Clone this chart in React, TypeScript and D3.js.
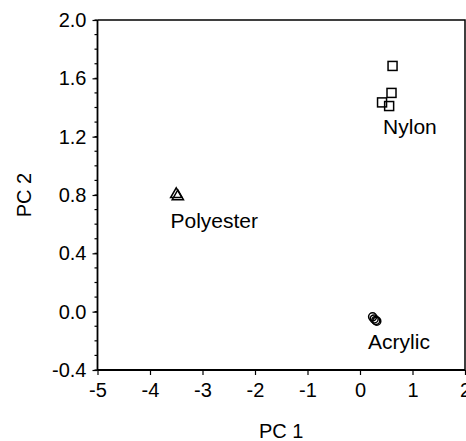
import React, { useEffect, useRef } from 'react';
import * as d3 from 'd3';

// PCA scores
const nylonX = [0.62, 0.6, 0.42, 0.555];
const nylonY = [1.685, 1.5, 1.435, 1.41];
const polyesterX = [-3.5, -3.47];
const polyesterY = [0.805, 0.79];
const acrylicX = [0.24, 0.27, 0.3, 0.32];
const acrylicY = [-0.035, -0.05, -0.06, -0.065];

const groupNames = ['Nylon', 'Polyester', 'Acrylic'];
const labelX = [0.44, -3.61, 0.154];
const labelY = [1.218, 0.573, -0.259];

const xTicks = [-5, -4, -3, -2, -1, 0, 1, 2];
const yTicks = [-0.4, 0, 0.4, 0.8, 1.2, 1.6, 2.0];
const yMinor = d3.range(-4, 21).map(i => i / 10);

const App = () => {
  const ref = useRef<SVGSVGElement>(null);

  useEffect(() => {
    const width = 466;
    const height = 441;
    const marginTop = 20;
    const marginRight = 1;
    const marginBottom = 71;
    const marginLeft = 97.5;
    const font = 'Liberation Sans, Arial, sans-serif';

    const x = d3.scaleLinear().domain([-5, 2]).range([marginLeft, width - marginRight]);
    const y = d3.scaleLinear().domain([-0.4, 2.0]).range([height - marginBottom, marginTop]);

    const svg = d3.select(ref.current);
    svg.selectAll('*').remove();
    svg.attr('width', width).attr('height', height).attr('viewBox', [0, 0, width, height]);

    // frame top and right
    svg.append('path')
      .attr('d', `M${x(-5)},${y(2)}H${x(2)}V${y(-0.4)}`)
      .attr('fill', 'none')
      .attr('stroke', '#000')
      .attr('stroke-width', 1.5);

    // y minor ticks
    svg.append('g')
      .selectAll('line')
      .data(yMinor)
      .join('line')
      .attr('x1', marginLeft - 3)
      .attr('x2', marginLeft)
      .attr('y1', d => y(d))
      .attr('y2', d => y(d))
      .attr('stroke', '#000')
      .attr('stroke-width', 1.2);

    svg.append('g')
      .attr('transform', `translate(0,${y(-0.4)})`)
      .call(d3.axisBottom(x).tickValues(xTicks).tickSize(5).tickPadding(8).tickFormat(d => String(d)))
      .call(g => g.select('.domain').attr('stroke-width', 1.8).attr('d', `M${x(-5)},0H${x(2)}`))
      .call(g => g.selectAll('.tick line').attr('stroke-width', 1.2))
      .call(g => g.selectAll('text').attr('font-family', font).attr('font-size', 20).attr('fill', '#000'));

    svg.append('g')
      .attr('transform', `translate(${marginLeft},0)`)
      .call(d3.axisLeft(y).tickValues(yTicks).tickSize(5).tickPadding(6).tickFormat(d => (+d).toFixed(1)))
      .call(g => g.select('.domain').attr('stroke-width', 1.8).attr('d', `M0,${y(-0.4)}V${y(2)}`))
      .call(g => g.selectAll('.tick line').attr('stroke-width', 1.2))
      .call(g => g.selectAll('text').attr('font-family', font).attr('font-size', 20).attr('fill', '#000'));

    // axis titles
    svg.append('text')
      .attr('x', (x(-5) + x(2)) / 2)
      .attr('y', 438)
      .attr('text-anchor', 'middle')
      .attr('font-family', font)
      .attr('font-size', 20)
      .text('PC 1');

    svg.append('text')
      .attr('transform', `translate(31,${(y(-0.4) + y(2)) / 2}) rotate(-90)`)
      .attr('text-anchor', 'middle')
      .attr('font-family', font)
      .attr('font-size', 20)
      .text('PC 2');

    const marks = svg.append('g')
      .attr('fill', 'none')
      .attr('stroke', '#000')
      .attr('stroke-width', 1.5);

    // Nylon: squares
    marks.selectAll('.sq')
      .data(d3.zip(nylonX, nylonY))
      .join('rect')
      .attr('x', d => x(d[0]) - 4.5)
      .attr('y', d => y(d[1]) - 4.5)
      .attr('width', 9)
      .attr('height', 9);

    // Polyester: triangles
    const tri = d3.symbol().type(d3.symbolTriangle).size(55);
    marks.selectAll('.tri')
      .data(d3.zip(polyesterX, polyesterY))
      .join('path')
      .attr('d', tri)
      .attr('transform', d => `translate(${x(d[0])},${y(d[1])})`);

    // Acrylic: circles
    marks.selectAll('circle')
      .data(d3.zip(acrylicX, acrylicY))
      .join('circle')
      .attr('cx', d => x(d[0]))
      .attr('cy', d => y(d[1]))
      .attr('r', 4);

    svg.append('g')
      .selectAll('text')
      .data(groupNames)
      .join('text')
      .attr('x', (d, i) => x(labelX[i]))
      .attr('y', (d, i) => y(labelY[i]))
      .attr('font-family', font)
      .attr('font-size', 21)
      .text(d => d);
  }, []);

  return <svg ref={ref} style={{ position: 'absolute', left: 0, top: 0, background: '#fff' }} />;
};

export default App;
